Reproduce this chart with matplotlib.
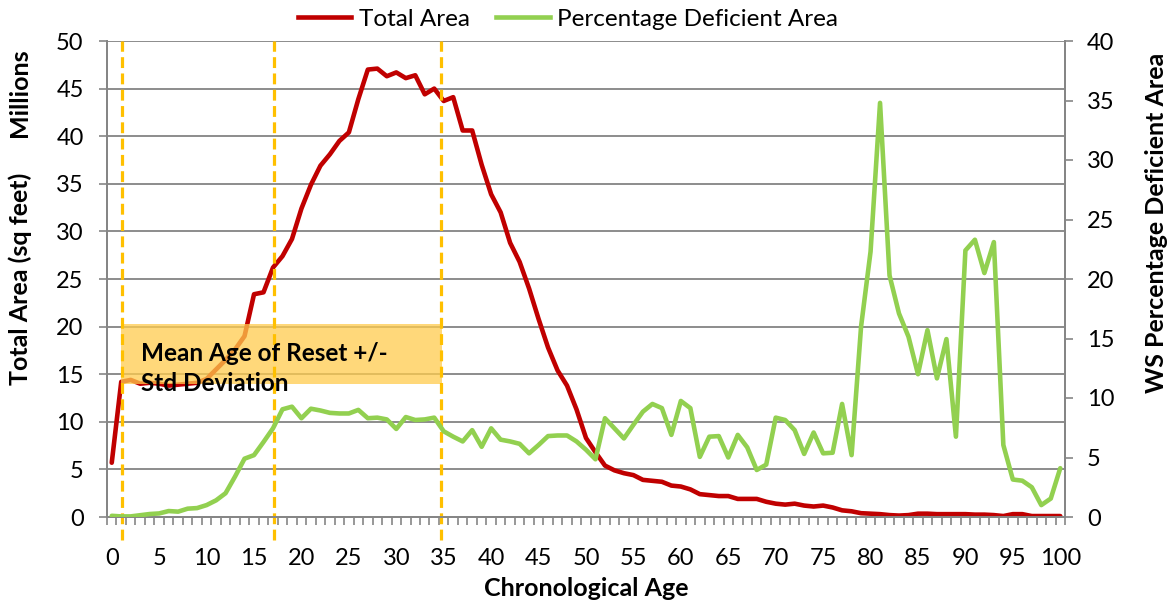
import matplotlib
matplotlib.use("Agg")
import matplotlib.pyplot as plt
from matplotlib.patches import Rectangle
from matplotlib.lines import Line2D
import numpy as np

plt.rcParams['font.family'] = ['Lato', 'DejaVu Sans']

ages = list(range(0, 101))

total_area = [
    5.7, 14.2, 14.4, 14.0, 14.1, 14.0, 13.8, 13.9, 14.0, 14.1,
    14.5, 15.5, 16.5, 17.6, 19.0, 23.4, 23.6, 26.2, 27.4, 29.2,
    32.4, 34.9, 36.9, 38.1, 39.5, 40.4, 43.9, 47.0, 47.1, 46.3,
    46.7, 46.1, 46.4, 44.4, 45.0, 43.7, 44.1, 40.6, 40.6, 37.0,
    33.9, 32.0, 28.8, 26.8, 24.0, 20.8, 17.8, 15.4, 13.8, 11.3,
    8.3, 6.8, 5.4, 4.9, 4.6, 4.4, 3.9, 3.8, 3.7, 3.3,
    3.2, 2.9, 2.4, 2.3, 2.2, 2.2, 1.9, 1.9, 1.9, 1.6,
    1.4, 1.3, 1.4, 1.2, 1.1, 1.2, 1.0, 0.7, 0.6, 0.4,
    0.35, 0.3, 0.2, 0.15, 0.2, 0.35, 0.35, 0.3, 0.3, 0.3,
    0.3, 0.25, 0.25, 0.2, 0.1, 0.3, 0.3, 0.1, 0.1, 0.1,
    0.1,
]

pct_deficient = [
    0.1, 0.05, 0.05, 0.15, 0.25, 0.3, 0.5, 0.45, 0.7, 0.75,
    1.0, 1.4, 2.0, 3.4, 4.9, 5.2, 6.3, 7.45, 9.05, 9.27,
    8.3, 9.1, 8.95, 8.75, 8.7, 8.7, 9.0, 8.3, 8.35, 8.2,
    7.4, 8.4, 8.15, 8.2, 8.35, 7.2, 6.75, 6.35, 7.3, 5.9,
    7.45, 6.5, 6.35, 6.15, 5.35, 6.05, 6.8, 6.85, 6.85, 6.35,
    5.65, 4.85, 8.3, 7.45, 6.6, 7.75, 8.85, 9.5, 9.15, 6.9,
    9.75, 9.15, 5.05, 6.75, 6.8, 5.0, 6.9, 5.85, 3.95, 4.4,
    8.35, 8.15, 7.3, 5.3, 7.1, 5.35, 5.4, 9.5, 5.2, 16.0,
    22.3, 34.8, 20.3, 17.1, 15.15, 12.0, 15.7, 11.65, 14.95, 6.75,
    22.4, 23.3, 20.5, 23.1, 6.05, 3.15, 3.05, 2.5, 1.0, 1.55,
    4.1,
]

reset_lines = [1.1, 17.1, 34.7]          # mean - std, mean, mean + std
band_x = [1.0, 34.8]
band_y = [14.0, 20.3]

x_ticks = list(range(0, 101, 5))
left_ticks = list(range(0, 51, 5))
right_ticks = list(range(0, 41, 5))

RED = '#C00000'
GREEN = '#92D050'
GRID = '#8C8C8C'
AXC = '#868686'
FS_TICK = 17
FS_LAB = 18
FS_LEG = 17.5
FS_BOX = 17.5

fig = plt.figure(figsize=(11.69, 6.06), dpi=100)
ax = fig.add_axes([107/1169, 89/606, (1065-107)/1169, (517-41)/606])
ax2 = ax.twinx()

ax.set_xlim(-0.5, 100.5)
ax.set_ylim(0, 50)
ax2.set_ylim(0, 40)

# grid
ax.set_yticks(left_ticks)
ax.yaxis.grid(True, color=GRID, linewidth=1.4)
ax.set_axisbelow(True)

# red line
ax.plot(ages, total_area, color=RED, linewidth=3.3, solid_joinstyle='round',
        solid_capstyle='round', zorder=3)

# band
ax.add_patch(Rectangle((band_x[0], band_y[0]), band_x[1]-band_x[0], band_y[1]-band_y[0],
                       facecolor='#FFCC4D', alpha=0.75, edgecolor='none', zorder=4))
ax.text(3.1, 17.2, 'Mean Age of Reset +/-', fontsize=FS_BOX, fontweight='bold',
        color='black', va='center', ha='left', zorder=6)
ax.text(3.1, 14.0, 'Std Deviation', fontsize=FS_BOX, fontweight='bold',
        color='black', va='center', ha='left', zorder=6)

# dashed lines
for xv in reset_lines:
    ax.plot([xv, xv], [-2.4, 50], color='#FFC000', linewidth=2.3,
            dashes=(3.4, 1.7), clip_on=False, zorder=5)

# green line
ax2.plot(ages, pct_deficient, color=GREEN, linewidth=3.3, solid_joinstyle='round',
         solid_capstyle='round', zorder=3)

# axes styling
for a in (ax, ax2):
    a.spines['top'].set_visible(False)
    for s in ('left', 'right', 'bottom'):
        a.spines[s].set_color(AXC)
        a.spines[s].set_linewidth(1.4)

ax.set_xticks(x_ticks)
ax.set_xticklabels([str(v) for v in x_ticks])
ax.set_xticks(np.arange(-0.5, 101, 1.0), minor=True)
ax.tick_params(axis='x', which='major', length=0, pad=22, labelsize=FS_TICK)
ax.tick_params(axis='x', which='minor', length=5.5, width=1.2, color=AXC, direction='out')
ax.tick_params(axis='y', which='major', length=5.8, width=1.2, color=AXC, pad=11, labelsize=FS_TICK)

ax2.set_yticks(right_ticks)
ax2.tick_params(axis='y', which='major', length=5.8, width=1.2, color=AXC, pad=10, labelsize=FS_TICK)

# labels
fig.text(20/1169, 1 - 279/606, 'Total Area (sq feet)', rotation=90, fontsize=FS_LAB,
         fontweight='bold', ha='center', va='center')
fig.text(20/1169, 1 - 93/606, 'Millions', rotation=90, fontsize=FS_LAB,
         fontweight='bold', ha='center', va='center')
fig.text(1156/1169, 1 - 223/606, 'WS Percentage Deficient Area', rotation=90, fontsize=FS_LAB,
         fontweight='bold', ha='center', va='center')
fig.text(586/1169, 1 - 589/606, 'Chronological Age', fontsize=FS_LAB,
         fontweight='bold', ha='center', va='center')

# legend
handles = [Line2D([], [], color=RED, linewidth=3.3),
           Line2D([], [], color=GREEN, linewidth=3.3)]
fig.legend(handles, ['Total Area', 'Percentage Deficient Area'], loc='center',
           bbox_to_anchor=(568/1169, 1 - 19/606), ncol=2, frameon=False, fontsize=FS_LEG,
           handlelength=2.2, handletextpad=0.3, columnspacing=1.1, borderpad=0)

fig.savefig('out.png', dpi=100)
